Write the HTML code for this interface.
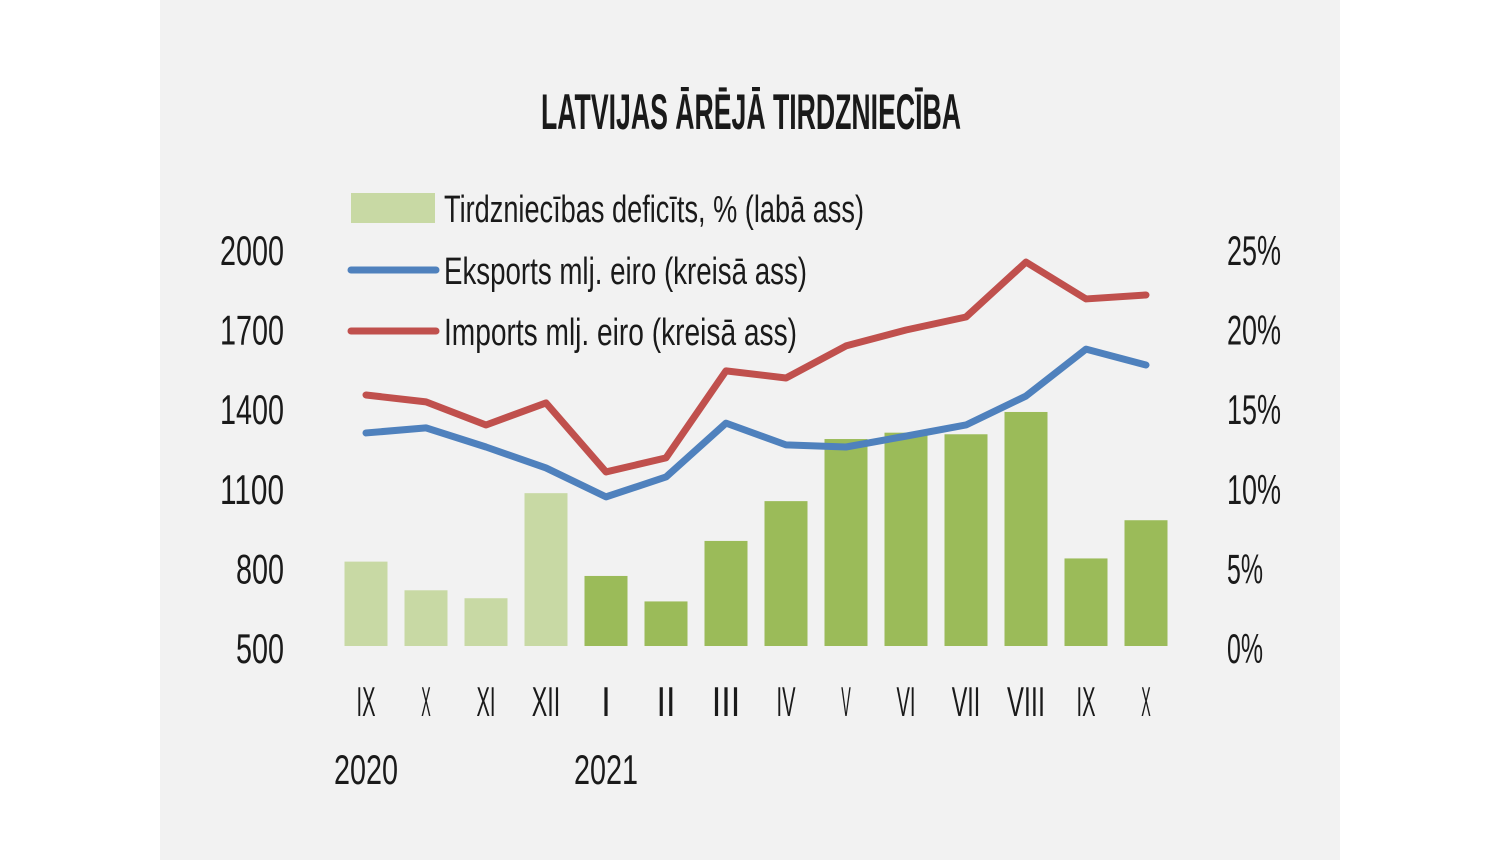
<!DOCTYPE html>
<html><head><meta charset="utf-8"><style>
html,body{margin:0;padding:0;background:#fff;}
svg{display:block;}
text{font-family:"Liberation Sans Narrow","Liberation Sans",sans-serif;fill:#1a1a1a;}
</style></head><body>
<svg id="chart" width="1500" height="860" viewBox="0 0 1500 860">
<rect x="160" y="0" width="1180" height="860" fill="#f2f2f2"/>
<text x="751" y="129" text-anchor="middle" font-size="50" font-weight="bold" textLength="420" lengthAdjust="spacingAndGlyphs">LATVIJAS ĀRĒJĀ TIRDZNIECĪBA</text>
<g id="bars"></g>
<g id="lines"></g>
<g id="axes"></g>
<g>
<rect x="351" y="193" width="84" height="30" fill="#c8d9a4"/>
<text x="444" y="222" font-size="38" textLength="420" lengthAdjust="spacingAndGlyphs">Tirdzniecības deficīts, % (labā ass)</text>
<line x1="351" y1="270" x2="436" y2="270" stroke="#4f81bd" stroke-width="7" stroke-linecap="round"/>
<text x="444" y="284" font-size="38" textLength="363" lengthAdjust="spacingAndGlyphs">Eksports mlj. eiro (kreisā ass)</text>
<line x1="351" y1="331" x2="436" y2="331" stroke="#c0504d" stroke-width="7" stroke-linecap="round"/>
<text x="444" y="345" font-size="38" textLength="353" lengthAdjust="spacingAndGlyphs">Imports mlj. eiro (kreisā ass)</text>
</g>
</svg>
<script>
const categories=["IX","X","XI","XII","I","II","III","IV","V","VI","VII","VIII","IX","X"];
const deficitPct=[5.3,3.5,3.0,9.6,4.4,2.8,6.6,9.1,13.0,13.4,13.3,14.7,5.5,7.9];
const exportsVal=[1303,1322,1250,1171,1062,1137,1340,1258,1250,1291,1333,1442,1619,1559];
const importsVal=[1446,1420,1333,1416,1156,1209,1537,1510,1631,1691,1740,1947,1808,1823];
const leftTicks=[500,800,1100,1400,1700,2000];
const rightTicks=[0,5,10,15,20,25];
const yearLabels=[["2020",0],["2021",4]];
const lightCount=4;
const NS="http://www.w3.org/2000/svg";
const x0=366,step=60,yBottom=646,yTop=248;
const xAt=i=>x0+i*step;
const yL=v=>yBottom-(v-500)/1500*(yBottom-yTop);
const yR=v=>yBottom-v/25*(yBottom-yTop);
function mk(tag,attrs,parent){const e=document.createElementNS(NS,tag);for(const k in attrs)e.setAttribute(k,attrs[k]);parent.appendChild(e);return e;}
const bars=document.getElementById('bars'),lines=document.getElementById('lines'),axes=document.getElementById('axes');
deficitPct.forEach((v,i)=>{
 const r=mk('rect',{x:xAt(i)-21.5,y:yR(v),width:43,height:yBottom-yR(v),fill:i<lightCount?'#c8d9a4':'#9bbb59'},bars);
 
 
});
[[exportsVal,'#4f81bd','export-line'],[importsVal,'#c0504d','import-line']].forEach(([arr,c,n])=>{
 const p=mk('polyline',{points:arr.map((v,i)=>xAt(i)+','+yL(v)).join(' '),fill:'none',stroke:c,'stroke-width':7,'stroke-linejoin':'round','stroke-linecap':'round'},lines);
 
 
});
leftTicks.forEach(v=>{
 const s=String(v);
 const t=mk('text',{x:284-s.length*16,y:yL(v)+17,'font-size':42,textLength:s.length*16,lengthAdjust:'spacingAndGlyphs'},axes);t.textContent=s;
 
 
});
rightTicks.forEach(v=>{
 const s=v+'%';
 const t=mk('text',{x:1227,y:yR(v)+17,'font-size':42,textLength:s.length*18,lengthAdjust:'spacingAndGlyphs'},axes);t.textContent=s;
 
 
});
categories.forEach((c,i)=>{
 const w=c.length*9.5;
 const t=mk('text',{x:xAt(i)-w/2,y:716,'font-size':42,textLength:w,lengthAdjust:'spacingAndGlyphs'},axes);t.textContent=c;
 
 
});
yearLabels.forEach(([y,i])=>{
 const t=mk('text',{x:xAt(i)-32,y:784,'font-size':42,textLength:64,lengthAdjust:'spacingAndGlyphs'},axes);t.textContent=y;
 
 
});
</script>
</body></html>
